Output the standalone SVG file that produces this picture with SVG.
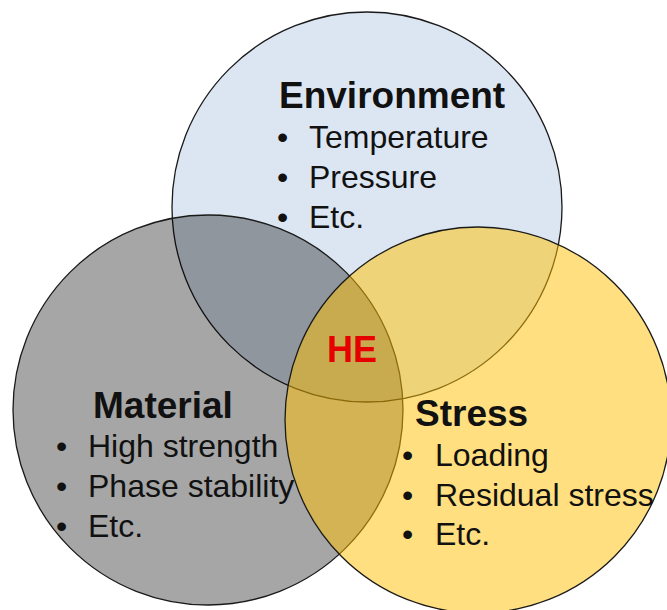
<svg xmlns="http://www.w3.org/2000/svg" width="667" height="610" viewBox="0 0 667 610">
<style>
.c{stroke:#1a1a1a;stroke-width:1.3}
.t{font-family:"Liberation Sans",Arial,sans-serif;font-weight:bold;font-size:37px;fill:#111}
.b{font-family:"Liberation Sans",Arial,sans-serif;font-size:32px;fill:#111}
.he{font-family:"Liberation Sans",Arial,sans-serif;font-weight:bold;font-size:36px;fill:#e60000}
</style>
<rect width="667" height="610" fill="#ffffff"/>
<g id="environment">
<circle class="c" cx="367" cy="207" r="195" fill="#dce6f2"/>
</g>
<g id="material">
<circle class="c" cx="208" cy="410" r="195" fill="#000000" fill-opacity="0.35"/>
</g>
<g id="stress">
<circle class="c" cx="478" cy="420" r="193" fill="#ffc000" fill-opacity="0.5"/>
</g>
<g id="environment-text">
<text class="t" x="279" y="108">Environment</text>
<text class="b" x="277" y="148">•</text><text class="b" x="309" y="148">Temperature</text>
<text class="b" x="277" y="188">•</text><text class="b" x="309" y="188">Pressure</text>
<text class="b" x="277" y="228">•</text><text class="b" x="309" y="228">Etc.</text>
</g>
<g id="material-text">
<text class="t" x="93" y="418">Material</text>
<text class="b" x="56" y="457">•</text><text class="b" x="88" y="457">High strength</text>
<text class="b" x="56" y="497">•</text><text class="b" x="88" y="497">Phase stability</text>
<text class="b" x="56" y="537">•</text><text class="b" x="88" y="537">Etc.</text>
</g>
<g id="stress-text">
<text class="t" x="415" y="426">Stress</text>
<text class="b" x="402" y="466">•</text><text class="b" x="435" y="466">Loading</text>
<text class="b" x="402" y="506">•</text><text class="b" x="435" y="506">Residual stress</text>
<text class="b" x="402" y="545">•</text><text class="b" x="435" y="545">Etc.</text>
</g>
<g id="he">
<text class="he" x="327" y="362">HE</text>
</g>
<g id="connectors"></g>
</svg>
